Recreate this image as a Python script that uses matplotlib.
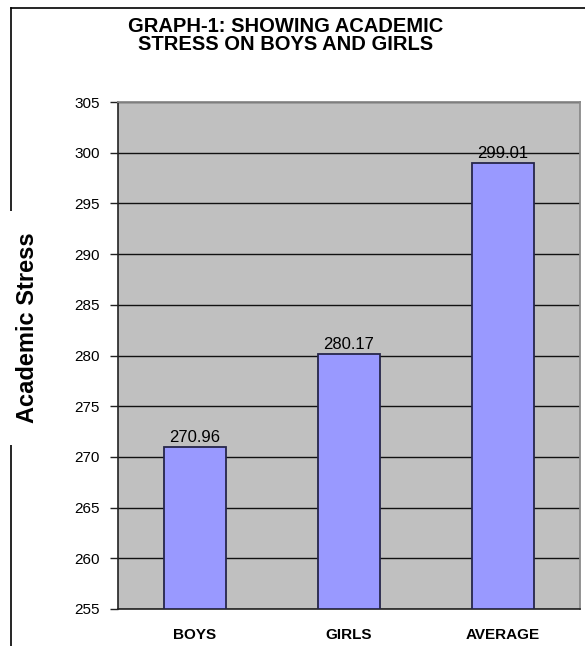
import matplotlib
matplotlib.use("Agg")
import matplotlib.pyplot as plt
from matplotlib.lines import Line2D

categories = ["BOYS", "GIRLS", "AVERAGE"]
values = [270.96, 280.17, 299.01]
yticks = [255, 260, 265, 270, 275, 280, 285, 290, 295, 300, 305]

plt.rcParams['font.family'] = ['Liberation Sans', 'DejaVu Sans']

W, H = 585, 646
fig = plt.figure(figsize=(W/100, H/100), dpi=100)
fig.patch.set_facecolor('white')

ax = fig.add_axes([118/W, 1-609/H, (580-118)/W, (609-102)/H])
ax.set_facecolor('#C0C0C0')
x = list(range(len(categories)))
ax.bar(x, [v - yticks[0] for v in values], bottom=yticks[0], width=0.4,
       color='#9999FF', edgecolor='#26264a', linewidth=1.3, zorder=3)
ax.set_xlim(-0.5, 2.5)
ax.set_ylim(yticks[0], yticks[-1])
ax.set_yticks(yticks)
ax.set_yticklabels([str(t) for t in yticks], fontsize=11)
ax.set_xticks(x)
ax.set_xticklabels(categories, fontsize=11, fontweight='bold')
ax.tick_params(axis='y', length=6, width=1, pad=7, color='#222222')
ax.tick_params(axis='x', length=0, pad=13.5)
ax.yaxis.grid(True, color='#111111', linewidth=1)
ax.set_axisbelow(True)
for s in ['top', 'right']:
    ax.spines[s].set_color('#8a8a8a')
    ax.spines[s].set_linewidth(1.3)
for s in ['left', 'bottom']:
    ax.spines[s].set_color('#222222')
    ax.spines[s].set_linewidth(1.2)

for xi, v in zip(x, values):
    ax.annotate(f"{v:.2f}", (xi, v), xytext=(0, 1.5), textcoords='offset points',
                ha='center', va='bottom', fontsize=12, zorder=4)

# figure frame (left and top)
fig.add_artist(Line2D([11/W, 11/W], [0, 1-8/H], transform=fig.transFigure,
                      color='black', linewidth=1.2))
fig.add_artist(Line2D([11/W, 1], [1-8/H, 1-8/H], transform=fig.transFigure,
                      color='black', linewidth=1.2))

fig.text(286/W, 1-35.5/H, "GRAPH-1: SHOWING ACADEMIC\nSTRESS ON BOYS AND GIRLS",
         ha='center', va='center', fontsize=14.5, fontweight='bold', linespacing=0.98)

fig.text(28/W, 1-328/H, "Academic Stress", rotation=90, ha='center', va='center',
         fontsize=17, fontweight='bold',
         bbox=dict(facecolor='white', edgecolor='none', boxstyle='square,pad=0.9'))

fig.savefig("out.png", dpi=100)
